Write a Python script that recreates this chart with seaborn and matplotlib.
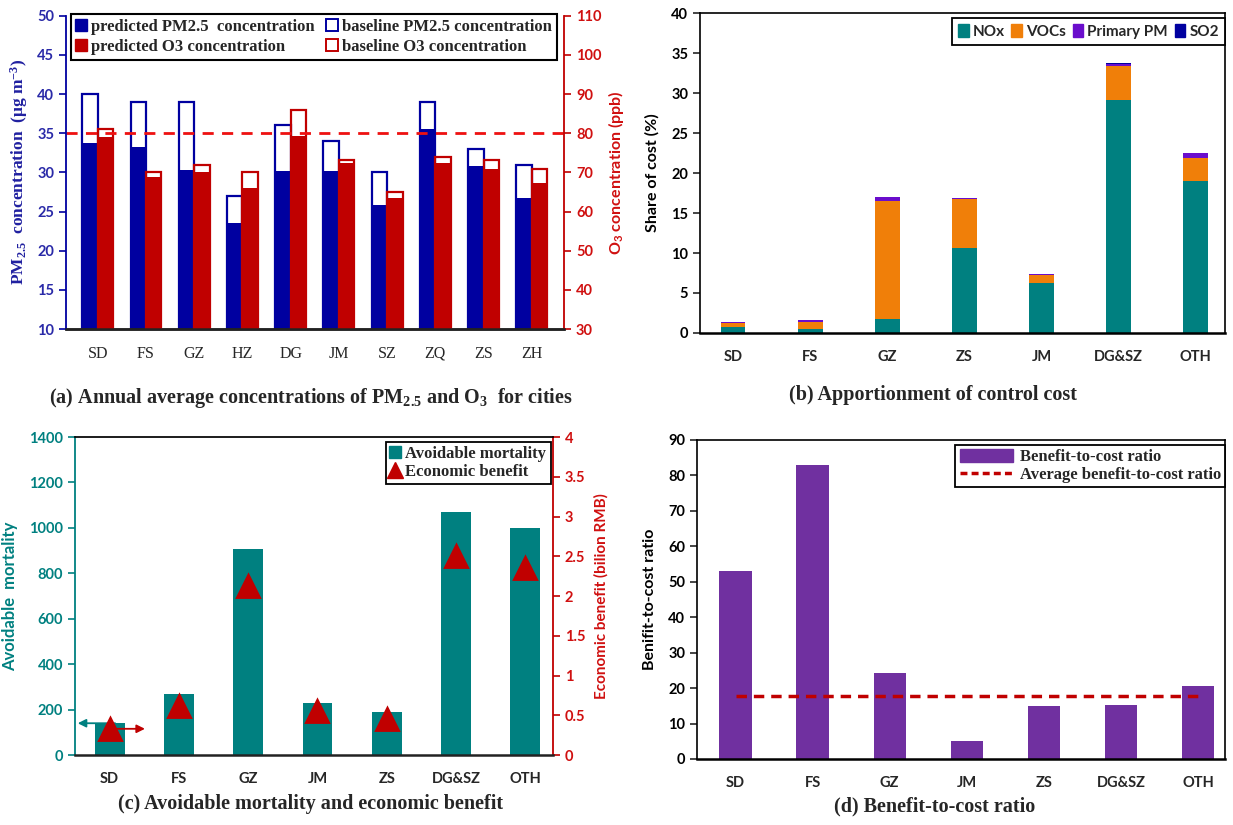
import numpy as np
import pandas as pd
import matplotlib
matplotlib.use("Agg")
import matplotlib.pyplot as plt
import seaborn as sns
from matplotlib.lines import Line2D
from matplotlib.patches import Patch

# (a) annual average concentrations by city
cities = ["SD", "FS", "GZ", "HZ", "DG", "JM", "SZ", "ZQ", "ZS", "ZH"]
pm_pred = [33.7, 33.3, 30.3, 23.5, 30.2, 30.2, 25.9, 35.5, 30.8, 26.8]
pm_base = [40.0, 39.0, 39.0, 27.0, 36.0, 34.0, 30.0, 39.0, 33.0, 31.0]
o3_pred = [79.0, 68.8, 70.0, 66.0, 79.2, 72.4, 63.6, 72.4, 71.0, 67.2]
o3_base = [81.0, 70.0, 72.0, 70.0, 86.0, 73.2, 65.0, 74.0, 73.2, 71.0]
o3_standard = 80

# (b) share of control cost (%)
regions_b = ["SD", "FS", "GZ", "ZS", "JM", "DG&SZ", "OTH"]
nox = [0.7, 0.5, 1.7, 10.6, 6.3, 29.2, 19.0]
vocs = [0.5, 0.9, 14.8, 6.1, 0.9, 4.2, 2.9]
primary_pm = [0.15, 0.2, 0.5, 0.2, 0.2, 0.3, 0.6]
so2 = [0.02, 0.02, 0.03, 0.02, 0.02, 0.03, 0.03]

# (c) avoidable mortality and economic benefit, (d) benefit-to-cost ratio
regions = ["SD", "FS", "GZ", "JM", "ZS", "DG&SZ", "OTH"]
mortality = [140, 270, 905, 230, 188, 1070, 1000]
benefit = [0.33, 0.62, 2.12, 0.55, 0.45, 2.50, 2.35]
bcr = [53.0, 83.0, 24.3, 5.2, 14.9, 15.2, 20.7]
bcr_avg = 17.7

BLUE = "#0000a0"
RED = "#c00000"
TEAL = "#008080"
ORANGE = "#f07f09"
PM_PURPLE = "#6a0dcc"
PURPLE = "#7030a0"

sns.set_theme(style="white")
plt.rcParams["font.family"] = ["Lato", "DejaVu Sans"]
plt.rcParams["mathtext.default"] = "regular"
SERIF = ["Liberation Serif", "DejaVu Serif"]

fig = plt.figure(figsize=(12.33, 8.25), dpi=100)

def style_ticks(ax, color="black"):
    for lab in ax.get_yticklabels():
        lab.set_fontweight("bold")
        lab.set_color(color)
        lab.set_fontsize(10.5)

# ---------------- panel (a) ----------------
ax = fig.add_axes([0.0535, 0.601, 0.404, 0.380])
ax2 = ax.twinx()
rows = []
for i, c in enumerate(cities):
    rows.append({"city": c, "species": "PM2.5", "pred_l": pm_pred[i], "base_l": pm_base[i],
                 "pred_r": np.nan, "base_r": np.nan})
    rows.append({"city": c, "species": "O3", "pred_l": np.nan, "base_l": np.nan,
                 "pred_r": o3_pred[i], "base_r": o3_base[i]})
df_a = pd.DataFrame(rows)
pal = {"PM2.5": BLUE, "O3": RED}
order = ["PM2.5", "O3"]
sns.barplot(data=df_a, x="city", y="base_l", hue="species", hue_order=order, palette=pal,
            fill=False, width=0.64, linewidth=1.6, errorbar=None, legend=False, ax=ax, saturation=1)
sns.barplot(data=df_a, x="city", y="pred_l", hue="species", hue_order=order, palette=pal,
            width=0.64, linewidth=0, errorbar=None, legend=False, ax=ax, saturation=1)
sns.barplot(data=df_a, x="city", y="base_r", hue="species", hue_order=order, palette=pal,
            fill=False, width=0.64, linewidth=1.6, errorbar=None, legend=False, ax=ax2, saturation=1)
sns.barplot(data=df_a, x="city", y="pred_r", hue="species", hue_order=order, palette=pal,
            width=0.64, linewidth=0, errorbar=None, legend=False, ax=ax2, saturation=1)
ax2.axhline(o3_standard, color="#ee1111", lw=2, ls=(0, (4, 3)))
ax.set_ylim(10, 50)
ax2.set_ylim(30, 110)
ax.set_xlim(-0.66, 9.67)
ax.set_yticks(range(10, 51, 5))
ax2.set_yticks(range(30, 111, 10))
ax.set_xlabel("")
ax2.set_xlabel("")
ax.set_xticks(range(len(cities)))
ax.set_xticklabels(cities, family=SERIF, fontsize=11.5)
ax.tick_params(axis="x", length=0, pad=12)
ax.tick_params(axis="y", length=5, width=1.2, color=BLUE, left=True, direction="out")
ax2.tick_params(axis="y", length=5, width=1.2, color=RED, right=True, direction="out")
style_ticks(ax, "#2a2aa8")
style_ticks(ax2, "#d01010")
ax.set_ylabel("PM$_{2.5}$  concentration  (μg m$^{-3}$)", family=SERIF, fontweight="bold",
              fontsize=12.5, color="#2020a0", labelpad=5)
ax2.set_ylabel("O$_3$ concentration (ppb)", fontweight="bold", fontsize=11.5, color="#d01010", labelpad=3)
for a in (ax, ax2):
    a.spines["top"].set_visible(False)
    a.spines["bottom"].set_color("#222222")
    a.spines["bottom"].set_linewidth(1.8)
ax2.spines["left"].set_color(BLUE)
ax2.spines["left"].set_linewidth(1.3)
ax2.spines["right"].set_color(RED)
ax2.spines["right"].set_linewidth(1.3)
ax.spines["left"].set_visible(False)
ax.spines["right"].set_visible(False)
handles_a = [
    Line2D([], [], marker="s", ls="none", ms=9, mfc=BLUE, mec=BLUE, label="predicted PM2.5  concentration"),
    Line2D([], [], marker="s", ls="none", ms=9, mfc=RED, mec=RED, label="predicted O3 concentration"),
    Line2D([], [], marker="s", ls="none", ms=9, mfc="white", mec=BLUE, mew=1.4, label="baseline PM2.5 concentration"),
    Line2D([], [], marker="s", ls="none", ms=9, mfc="white", mec=RED, mew=1.4, label="baseline O3 concentration"),
]
leg = ax2.legend(handles=handles_a, ncol=2, loc="lower left", bbox_to_anchor=(0.01, 0.86, 0.975, 0.13),
                 mode="expand", borderaxespad=0, fancybox=False, framealpha=1, edgecolor="black",
                 prop={"family": SERIF, "weight": "bold", "size": 12}, handlelength=0.6,
                 handletextpad=0.3, labelspacing=0.2, borderpad=0.3)
leg.get_frame().set_linewidth(1.5)

# ---------------- panel (b) ----------------
axb = fig.add_axes([0.5677, 0.5964, 0.4258, 0.3876])
tot2 = np.add(nox, vocs)
tot3 = tot2 + np.array(primary_pm)
tot4 = tot3 + np.array(so2)
for vals, col in [(tot4, BLUE), (tot3, PM_PURPLE), (tot2, ORANGE), (nox, TEAL)]:
    sns.barplot(x=regions_b, y=vals, color=col, width=0.32, saturation=1, errorbar=None,
                linewidth=0, ax=axb)
axb.set_ylim(0, 40)
axb.set_xlim(-0.43, 6.38)
axb.set_yticks(range(0, 41, 5))
axb.set_ylabel("Share of cost (%)", fontweight="bold", fontsize=11.5, color="black", labelpad=8)
axb.tick_params(axis="x", length=0, pad=12, labelsize=10.5)
axb.tick_params(axis="y", length=5, width=1.2, left=True, direction="out")
for lab in axb.get_xticklabels():
    lab.set_fontweight("bold")
style_ticks(axb)
for s in axb.spines.values():
    s.set_color("black")
    s.set_linewidth(1.2)
axb.spines["bottom"].set_linewidth(1.8)
handles_b = [Patch(color=TEAL, label="NOx"), Patch(color=ORANGE, label="VOCs"),
             Patch(color=PM_PURPLE, label="Primary PM"), Patch(color=BLUE, label="SO2")]
leg = axb.legend(handles=handles_b, ncol=4, loc="upper right", bbox_to_anchor=(1.0, 0.985),
                 fancybox=False, framealpha=1, edgecolor="black", handlelength=0.7,
                 handleheight=0.9, handletextpad=0.25, columnspacing=0.45, borderpad=0.4,
                 prop={"weight": "bold", "size": 11}, borderaxespad=0)
leg.get_frame().set_linewidth(1.3)

# ---------------- panel (c) ----------------
axc = fig.add_axes([0.0608, 0.0848, 0.3877, 0.3855])
sns.barplot(x=regions, y=mortality, color=TEAL, width=0.43, saturation=1, errorbar=None,
            linewidth=0, ax=axc)
axc2 = axc.twinx()
sns.pointplot(x=regions, y=benefit, color=RED, marker="^", markersize=16, linestyle="none",
              errorbar=None, ax=axc2)
axc.set_ylim(0, 1400)
axc2.set_ylim(0, 4)
axc.set_xlim(-0.5, 6.4)
axc.set_yticks(range(0, 1401, 200))
axc2.set_yticks(np.arange(0, 4.01, 0.5))
axc2.set_yticklabels(["0", "0.5", "1", "1.5", "2", "2.5", "3", "3.5", "4"])
axc.set_xticks(range(len(regions)))
axc.set_xticklabels(regions, fontweight="bold", fontsize=10.5)
axc.tick_params(axis="x", length=0, pad=12)
axc.tick_params(axis="y", length=5, width=1.2, color=TEAL, left=True, direction="out")
axc2.tick_params(axis="y", length=5, width=1.2, color=RED, right=True, direction="out")
style_ticks(axc, TEAL)
style_ticks(axc2, "#d01010")
axc.set_ylabel("Avoidable  mortality", fontweight="bold", fontsize=12, color=TEAL, labelpad=8)
axc2.set_ylabel("Economic benefit (bilion RMB)", fontweight="bold", fontsize=11, color="#d01010",
                labelpad=6)
axc.annotate("", xy=(-0.5, mortality[0]), xytext=(0.12, mortality[0]),
             arrowprops=dict(arrowstyle="-|>", color=TEAL, lw=1.3, mutation_scale=12))
axc2.annotate("", xy=(0.55, benefit[0]), xytext=(-0.1, benefit[0]),
              arrowprops=dict(arrowstyle="-|>", color=RED, lw=1.3, mutation_scale=12))
axc2.spines["left"].set_color(TEAL)
axc2.spines["left"].set_linewidth(1.3)
axc2.spines["right"].set_color(RED)
axc2.spines["right"].set_linewidth(1.3)
axc2.spines["top"].set_color("black")
axc2.spines["bottom"].set_color("#222222")
axc2.spines["bottom"].set_linewidth(1.8)
for s in axc.spines.values():
    s.set_visible(False)
handles_c = [Line2D([], [], marker="s", ls="none", ms=9, color=TEAL, label="Avoidable mortality"),
             Line2D([], [], marker="^", ls="none", ms=11, color=RED, label="Economic benefit")]
leg = axc2.legend(handles=handles_c, loc="upper right", bbox_to_anchor=(0.995, 0.985),
                  fancybox=False, framealpha=1, edgecolor="black", handlelength=0.6,
                  handletextpad=0.3, borderpad=0.25, labelspacing=0.1, borderaxespad=0,
                  prop={"family": SERIF, "weight": "bold", "size": 12})
leg.get_frame().set_linewidth(1.3)

# ---------------- panel (d) ----------------
axd = fig.add_axes([0.5653, 0.08, 0.4282, 0.3867])
sns.barplot(x=regions, y=bcr, color=PURPLE, width=0.42, saturation=1, errorbar=None,
            linewidth=0, ax=axd)
axd.hlines(bcr_avg, 0, len(regions) - 1, color=RED, lw=2.5, ls=(0, (3, 2)))
axd.set_ylim(0, 90)
axd.set_xlim(-0.5, 6.35)
axd.set_yticks(range(0, 91, 10))
axd.set_ylabel("Benifit-to-cost ratio", fontweight="bold", fontsize=11.5, color="black", labelpad=8)
axd.tick_params(axis="x", length=0, pad=12, labelsize=10.5)
axd.tick_params(axis="y", length=5, width=1.2, left=True, direction="out")
for lab in axd.get_xticklabels():
    lab.set_fontweight("bold")
style_ticks(axd)
for s in axd.spines.values():
    s.set_color("black")
    s.set_linewidth(1.2)
axd.spines["bottom"].set_linewidth(1.8)
handles_d = [Patch(color=PURPLE, label="Benefit-to-cost ratio"),
             Line2D([], [], color=RED, lw=2.5, ls=(0, (2, 1.2)), label="Average benefit-to-cost ratio")]
leg = axd.legend(handles=handles_d, loc="upper right", bbox_to_anchor=(1.0, 0.985),
                 fancybox=False, framealpha=1, edgecolor="black", handlelength=3.2,
                 handleheight=0.8, handletextpad=0.4, borderpad=0.25, labelspacing=0.1,
                 borderaxespad=0, prop={"family": SERIF, "weight": "bold", "size": 12})
leg.get_frame().set_linewidth(1.3)

# captions
cap = dict(family=SERIF, fontweight="bold", fontsize=14.5, ha="center", va="center")
fig.text(0.252, 0.518, "(a) Annual average concentrations of PM$_{2.5}$ and O$_3$  for cities", **cap)
fig.text(0.757, 0.521, "(b) Apportionment of control cost", **cap)
fig.text(0.252, 0.025, "(c) Avoidable mortality and economic benefit", **cap)
fig.text(0.758, 0.023, "(d) Benefit-to-cost ratio", **cap)

fig.savefig("out.png", dpi=100)
